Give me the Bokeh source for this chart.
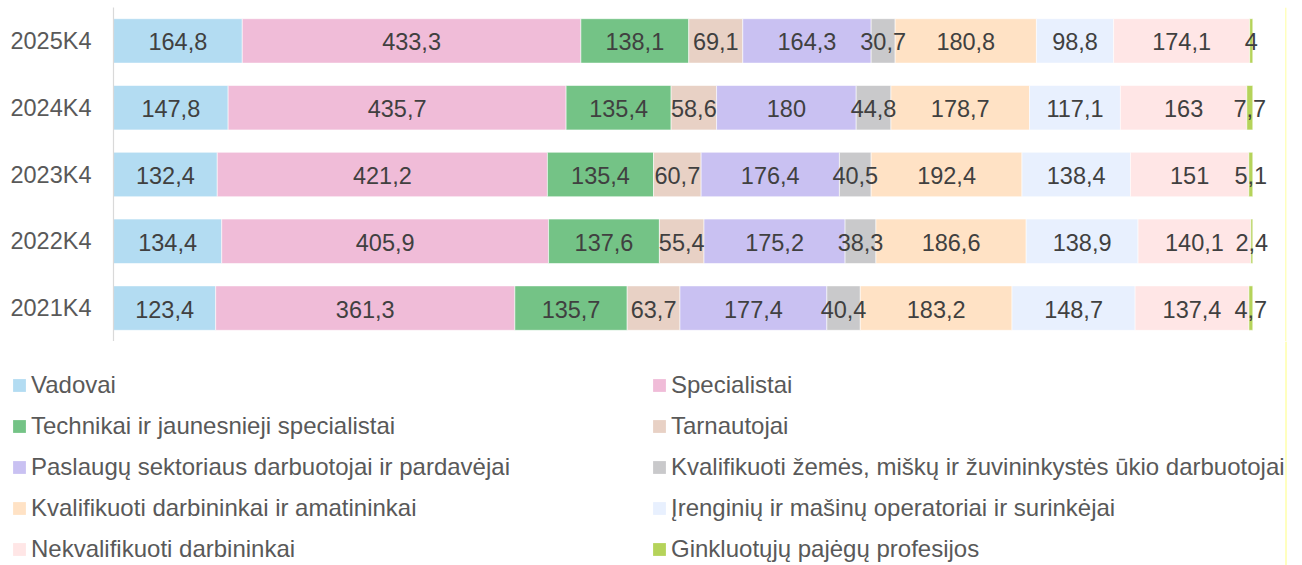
from bokeh.plotting import figure
from bokeh.models import (ColumnDataSource, FactorRange, Range1d, LabelSet,
                          Legend, LegendItem, Span)
from bokeh.layouts import column
from bokeh.embed import file_html
from bokeh.resources import INLINE
from bokeh.core.properties import value

# ---------------- data ----------------
categories = ["2025K4", "2024K4", "2023K4", "2022K4", "2021K4"]

series_names = [
    "Vadovai",
    "Specialistai",
    "Technikai ir jaunesnieji specialistai",
    "Tarnautojai",
    "Paslaugų sektoriaus darbuotojai ir pardavėjai",
    "Kvalifikuoti žemės, miškų ir žuvininkystės ūkio darbuotojai",
    "Kvalifikuoti darbininkai ir amatininkai",
    "Įrenginių ir mašinų operatoriai ir surinkėjai",
    "Nekvalifikuoti darbininkai",
    "Ginkluotųjų pajėgų profesijos",
]

vadovai = [164.8, 147.8, 132.4, 134.4, 123.4]
specialistai = [433.3, 435.7, 421.2, 405.9, 361.3]
technikai = [138.1, 135.4, 135.4, 137.6, 135.7]
tarnautojai = [69.1, 58.6, 60.7, 55.4, 63.7]
paslaugu = [164.3, 180.0, 176.4, 175.2, 177.4]
zemes_ukio = [30.7, 44.8, 40.5, 38.3, 40.4]
darbininkai = [180.8, 178.7, 192.4, 186.6, 183.2]
operatoriai = [98.8, 117.1, 138.4, 138.9, 148.7]
nekvalifikuoti = [174.1, 163.0, 151.0, 140.1, 137.4]
ginkluotuju = [4.0, 7.7, 5.1, 2.4, 4.7]

colors = ["#B3DCF2", "#F0BCD8", "#74C386", "#E8D1C5", "#C9C1F2",
          "#C9C9CB", "#FFE2C5", "#E8F0FE", "#FFE6E6", "#B5D35A"]

series_values = [vadovai, specialistai, technikai, tarnautojai, paslaugu,
                 zemes_ukio, darbininkai, operatoriai, nekvalifikuoti, ginkluotuju]

FONT = "Liberation Sans"


def fmt(v):
    return f"{v:g}".replace(".", ",")


# 100 % stacked shares
totals = [sum(s[i] for s in series_values) for i in range(len(categories))]
keys = [f"s{j}" for j in range(len(series_values))]
data = {"cat": categories}
for j, vals in enumerate(series_values):
    data[keys[j]] = [v / totals[i] for i, v in enumerate(vals)]
src = ColumnDataSource(data)

lx, ly, lt = [], [], []
for i, c in enumerate(categories):
    cum = 0.0
    for vals in series_values:
        share = vals[i] / totals[i]
        lx.append(cum + share / 2)
        ly.append(c)
        lt.append(fmt(vals[i]))
        cum += share
lsrc = ColumnDataSource(dict(x=lx, y=ly, t=lt))

W = 1300
LEFT = 113
RIGHT = 14
XEND = 1.02958

# ---------------- main chart ----------------
p = figure(width=W, height=341,
           y_range=FactorRange(factors=categories[::-1]),
           x_range=Range1d(0, XEND),
           x_axis_location=None,
           output_backend="svg", toolbar_location=None,
           min_border_left=LEFT, min_border_right=RIGHT,
           min_border_top=7, min_border_bottom=0)

p.hbar_stack(keys, y="cat", height=0.665, source=src,
             fill_color=colors, line_color="white", line_width=0.8,
             line_alpha=0.7)

labels = LabelSet(x="x", y="y", text="t", source=lsrc,
                  text_align="center", text_baseline="middle",
                  text_font=value(FONT), text_font_size="23.5px",
                  text_color="#404040", y_offset=-1)
p.add_layout(labels)

p.xgrid.grid_line_color = None
p.ygrid.grid_line_color = None
p.outline_line_color = None
p.yaxis.axis_line_color = "#D9D9D9"
p.yaxis.axis_line_width = 1.2
p.yaxis.major_tick_line_color = None
p.yaxis.minor_tick_line_color = None
p.yaxis.major_tick_out = 0
p.yaxis.major_label_standoff = 22
p.yaxis.major_label_text_font = FONT
p.yaxis.major_label_text_font_size = "23.5px"
p.yaxis.major_label_text_color = "#595959"

p.add_layout(Span(location=1.02914, dimension="height",
                  line_color="#FFFF80", line_width=1))

# ---------------- legend panel ----------------
H2 = 224
p2 = figure(width=W, height=H2, x_range=Range1d(0, W),
            y_range=Range1d(0, H2), output_backend="svg",
            toolbar_location=None, min_border=0,
            x_axis_location=None, y_axis_location=None)
if "frame_align" in p2.properties():
    p2.frame_align = False
p2.grid.visible = False
p2.outline_line_color = None

items = []
for name, c in zip(series_names, colors):
    # legend-only renderer, kept outside the visible range
    r = p2.hbar(y=[-1000], left=[0], right=[0], height=1,
                fill_color=c, line_color=None)
    items.append(LegendItem(label=name, renderers=[r]))

legend = Legend(items=items, location=(11, 2), orientation="horizontal",
                ncols=2, glyph_width=16, glyph_height=16, label_standoff=4,
                label_width=607, label_height=28, spacing=13,
                padding=0, margin=0, border_line_color=None,
                background_fill_alpha=0,
                label_text_font=FONT, label_text_font_size="24px",
                label_text_color="#595959")
p2.add_layout(legend, "center")
p2.add_layout(Span(location=1285.5, dimension="height",
                   line_color="#FFFF80", line_width=1))

layout = column(p, p2, spacing=0)
open("out.html", "w").write(file_html(layout, INLINE))
